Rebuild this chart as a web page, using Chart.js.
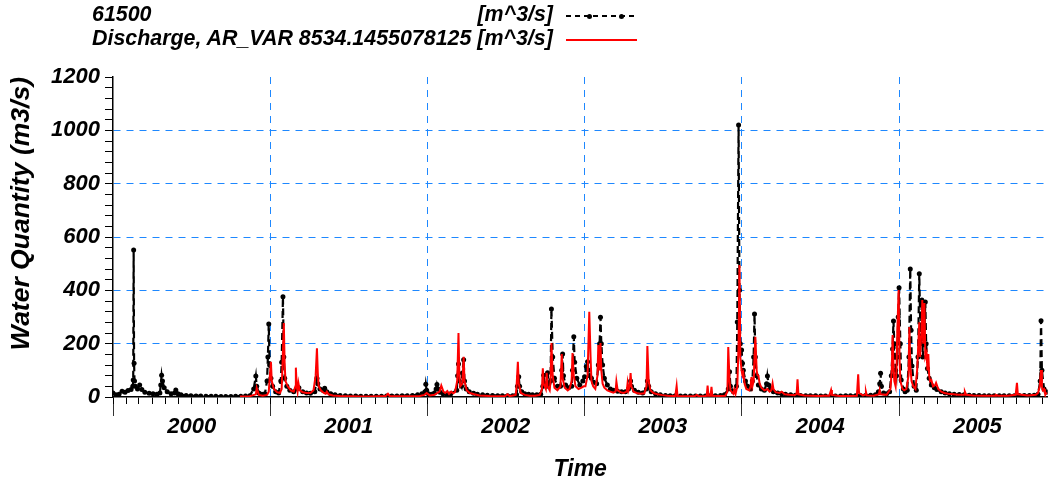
<!DOCTYPE html>
<html>
<head>
<meta charset="utf-8">
<script src="https://cdn.jsdelivr.net/npm/chart.js@4.4.0/dist/chart.umd.min.js"></script>
<style>
html,body{margin:0;padding:0;background:#fff;}
#wrap{position:relative;width:1050px;height:487px;overflow:hidden;}
#c{position:absolute;left:0;top:0;}
#legend{position:absolute;left:92px;top:2px;font:italic bold 21.4px 'Liberation Sans',Arial,sans-serif;color:#000;line-height:24px;}
.row{position:relative;width:461px;height:24px;white-space:nowrap;}
.row .r{position:absolute;right:0;top:0;}
.sample{position:absolute;left:474px;width:71px;height:2px;top:13px;}
.s1{background:repeating-linear-gradient(to right,#000 0 5px,transparent 5px 9px);}
.s2{background:#f00;height:1.6px;}
.dot{position:absolute;width:5px;height:5px;border-radius:50%;background:#000;top:-1.5px;}
</style>
</head>
<body>
<div id="wrap">
<canvas id="c" width="1050" height="487"></canvas>
<div id="legend">
  <div class="row"><span>61500</span><span class="r">[m^3/s]</span>
    <div class="sample s1"><div class="dot" style="left:21px"></div><div class="dot" style="left:53px"></div></div></div>
  <div class="row"><span>Discharge, AR_VAR 8534.1455078125 [m^3/s]</span>
    <div class="sample s2"></div></div>
</div>
</div>
<script>
// ---- data ----
const obsDates = [
'2000-01-01','2000-01-08','2000-01-15','2000-01-22','2000-01-29','2000-02-05','2000-02-12','2000-02-16','2000-02-17','2000-02-18',
'2000-02-19','2000-02-20','2000-02-22','2000-02-27','2000-03-03','2000-03-08','2000-03-15','2000-03-25','2000-04-03','2000-04-12',
'2000-04-19','2000-04-21','2000-04-23','2000-04-25','2000-04-29','2000-05-06','2000-05-15','2000-05-23','2000-05-26','2000-05-31',
'2000-06-07','2000-06-19','2000-06-30','2000-07-12','2000-07-23','2000-08-04','2000-08-16','2000-08-27','2000-09-08','2000-09-19',
'2000-10-01','2000-10-12','2000-10-24','2000-11-04','2000-11-14','2000-11-23','2000-11-28','2000-11-30','2000-12-05','2000-12-12',
'2000-12-19','2000-12-24','2000-12-26','2000-12-28','2000-12-30','2001-01-02','2001-01-06','2001-01-13','2001-01-20','2001-01-25',
'2001-01-27','2001-01-30','2001-02-01','2001-02-03','2001-02-08','2001-02-15','2001-02-24','2001-03-03','2001-03-08','2001-03-17',
'2001-03-26','2001-04-04','2001-04-14','2001-04-19','2001-04-21','2001-04-26','2001-05-03','2001-05-07','2001-05-12','2001-05-21',
'2001-05-31','2001-06-12','2001-06-24','2001-07-06','2001-07-18','2001-07-30','2001-08-11','2001-08-23','2001-09-04','2001-09-16',
'2001-09-28','2001-10-10','2001-10-22','2001-11-03','2001-11-15','2001-11-27','2001-12-09','2001-12-19','2001-12-26','2001-12-28',
'2001-12-30','2002-01-03','2002-01-10','2002-01-17','2002-01-21','2002-01-23','2002-01-26','2002-01-30','2002-02-06','2002-02-15',
'2002-02-24','2002-03-10','2002-03-12','2002-03-14','2002-03-16','2002-03-21','2002-03-23','2002-03-26','2002-03-28','2002-04-01',
'2002-04-08','2002-04-18','2002-04-27','2002-05-09','2002-05-20','2002-06-01','2002-06-13','2002-06-24','2002-07-06','2002-07-18',
'2002-07-27','2002-07-29','2002-08-01','2002-08-03','2002-08-08','2002-08-15','2002-08-24','2002-09-02','2002-09-12','2002-09-21',
'2002-09-26','2002-09-28','2002-09-30','2002-10-05','2002-10-07','2002-10-10','2002-10-14','2002-10-16','2002-10-19','2002-10-23',
'2002-10-30','2002-11-06','2002-11-09','2002-11-11','2002-11-13','2002-11-18','2002-11-25','2002-12-02','2002-12-04','2002-12-07',
'2002-12-09','2002-12-14','2002-12-21','2002-12-28','2003-01-01','2003-01-05','2003-01-08','2003-01-10','2003-01-13','2003-01-17',
'2003-01-22','2003-01-29','2003-02-02','2003-02-05','2003-02-07','2003-02-09','2003-02-12','2003-02-16','2003-02-23','2003-03-02',
'2003-03-09','2003-03-19','2003-03-28','2003-04-06','2003-04-13','2003-04-18','2003-04-20','2003-04-27','2003-05-06','2003-05-16',
'2003-05-25','2003-05-27','2003-05-30','2003-06-05','2003-06-15','2003-06-26','2003-07-08','2003-07-19','2003-07-31','2003-08-12',
'2003-08-23','2003-09-04','2003-09-16','2003-09-27','2003-10-09','2003-10-20','2003-11-01','2003-11-13','2003-11-22','2003-12-01',
'2003-12-04','2003-12-06','2003-12-13','2003-12-20','2003-12-22','2003-12-25','2003-12-27','2003-12-29','2004-01-01','2004-01-03',
'2004-01-05','2004-01-10','2004-01-15','2004-01-22','2004-01-26','2004-01-29','2004-01-31','2004-02-02','2004-02-05','2004-02-09',
'2004-02-16','2004-02-23','2004-02-28','2004-03-01','2004-03-04','2004-03-08','2004-03-15','2004-03-25','2004-04-03','2004-04-12',
'2004-04-24','2004-05-05','2004-05-17','2004-05-29','2004-06-09','2004-06-21','2004-07-03','2004-07-14','2004-07-26','2004-08-06',
'2004-08-18','2004-08-30','2004-09-10','2004-09-22','2004-10-03','2004-10-15','2004-10-27','2004-11-07','2004-11-14','2004-11-17',
'2004-11-19','2004-11-21','2004-11-26','2004-12-03','2004-12-10','2004-12-14','2004-12-17','2004-12-19','2004-12-21','2004-12-24',
'2004-12-26','2004-12-28','2004-12-30','2005-01-01','2005-01-04','2005-01-06','2005-01-11','2005-01-15','2005-01-20','2005-01-24',
'2005-01-27','2005-01-29','2005-01-31','2005-02-05','2005-02-10','2005-02-14','2005-02-17','2005-02-20','2005-02-23','2005-02-25',
'2005-02-28','2005-03-03','2005-03-05','2005-03-08','2005-03-12','2005-03-17','2005-03-24','2005-03-30','2005-04-09','2005-04-18',
'2005-04-28','2005-05-09','2005-05-21','2005-06-01','2005-06-13','2005-06-24','2005-07-06','2005-07-18','2005-07-29','2005-08-10',
'2005-08-22','2005-09-02','2005-09-14','2005-09-26','2005-10-07','2005-10-19','2005-10-31','2005-11-11','2005-11-20','2005-11-25',
'2005-11-27','2005-11-29','2005-12-04','2005-12-09','2005-12-12'];
const obsFlow = [
15,8,10,22,18,24,28,40,64,551,
127,60,40,30,45,28,18,14,12,10,
15,45,82,60,35,20,12,15,26,12,
8,6,5,4,4,3,3,3,2,2,
2,3,3,4,5,30,79,40,15,10,
12,60,150,274,120,70,40,20,15,60,
130,376,150,70,40,25,20,30,35,20,
15,14,20,70,50,30,25,33,20,12,
8,6,5,4,4,3,3,3,3,3,
4,4,4,5,5,6,8,12,20,48,
25,12,10,15,30,47,30,18,12,10,
12,25,80,124,60,40,90,140,60,30,
20,14,10,8,7,6,5,5,5,5,
8,40,76,40,20,12,10,8,8,10,
40,82,50,40,91,50,60,330,150,70,
40,40,100,161,80,45,35,40,100,226,
130,70,45,60,76,114,132,100,80,70,
55,50,120,200,299,200,120,70,45,30,
25,22,20,20,30,60,40,25,18,15,
30,60,40,20,12,8,6,5,5,4,
4,4,4,4,4,5,5,6,8,30,
95,40,20,40,281,1020,400,200,176,127,
100,60,40,30,60,150,311,150,80,45,
30,25,50,79,45,30,20,15,12,10,
8,7,6,5,5,5,4,4,4,4,
4,5,5,5,6,6,7,8,20,50,
89,40,15,12,20,80,180,285,200,100,
80,150,300,410,200,64,30,20,25,150,
480,250,116,40,25,150,462,200,364,150,
200,356,200,107,70,45,35,28,20,15,
12,10,9,8,7,6,6,5,5,5,
5,5,5,5,6,6,6,7,10,60,
286,100,30,20,18];

const simDates = [
'2000-10-22','2000-11-14','2000-11-28','2000-11-30','2000-12-05','2000-12-14','2000-12-24','2000-12-28','2001-01-02','2001-01-04',
'2001-01-09','2001-01-16','2001-01-23','2001-01-27','2001-01-29','2001-02-01','2001-02-03','2001-02-05','2001-02-10','2001-02-17',
'2001-02-24','2001-02-28','2001-03-01','2001-03-03','2001-03-05','2001-03-07','2001-03-10','2001-03-17','2001-03-26','2001-04-04',
'2001-04-11','2001-04-16','2001-04-19','2001-04-21','2001-04-23','2001-04-28','2001-05-05','2001-05-09','2001-05-12','2001-05-16',
'2001-05-26','2001-06-11','2001-07-04','2001-07-28','2001-08-19','2001-09-12','2001-09-26','2001-10-01','2001-10-05','2001-10-28',
'2001-11-21','2001-12-14','2001-12-25','2001-12-30','2002-01-06','2002-01-17','2002-01-29','2002-02-02','2002-02-07','2002-02-11',
'2002-02-16','2002-02-20','2002-02-25','2002-03-02','2002-03-06','2002-03-11','2002-03-14','2002-03-16','2002-03-18','2002-03-23',
'2002-03-26','2002-03-28','2002-04-02','2002-04-09','2002-04-20','2002-05-02','2002-05-25','2002-06-18','2002-06-30','2002-07-06',
'2002-07-11','2002-07-25','2002-07-27','2002-07-30','2002-08-01','2002-08-06','2002-08-15','2002-08-27','2002-09-08','2002-09-19',
'2002-09-24','2002-09-26','2002-09-28','2002-10-03','2002-10-05','2002-10-07','2002-10-12','2002-10-14','2002-10-16','2002-10-19',
'2002-10-23','2002-10-30','2002-11-06','2002-11-09','2002-11-11','2002-11-16','2002-11-23','2002-11-27','2002-12-02','2002-12-04',
'2002-12-07','2002-12-11','2002-12-18','2002-12-25','2002-12-30','2003-01-03','2003-01-08','2003-01-10','2003-01-12','2003-01-15',
'2003-01-17','2003-01-21','2003-01-26','2003-01-31','2003-02-02','2003-02-05','2003-02-07','2003-02-09','2003-02-12','2003-02-16',
'2003-02-23','2003-03-02','2003-03-09','2003-03-14','2003-03-16','2003-03-19','2003-03-26','2003-04-02','2003-04-09','2003-04-11',
'2003-04-13','2003-04-16','2003-04-18','2003-04-20','2003-04-25','2003-05-02','2003-05-11','2003-05-20','2003-05-25','2003-05-27',
'2003-05-30','2003-06-03','2003-06-10','2003-06-20','2003-07-01','2003-07-13','2003-07-24','2003-07-31','2003-08-03','2003-08-05',
'2003-08-21','2003-09-14','2003-09-19','2003-09-23','2003-10-07','2003-10-12','2003-10-14','2003-10-16','2003-10-21','2003-10-23',
'2003-10-25','2003-11-11','2003-11-24','2003-11-29','2003-12-01','2003-12-04','2003-12-06','2003-12-13','2003-12-15','2003-12-18',
'2003-12-22','2003-12-25','2003-12-27','2003-12-29','2004-01-01','2004-01-03','2004-01-05','2004-01-08','2004-01-12','2004-01-19',
'2004-01-22','2004-01-24','2004-01-26','2004-01-29','2004-01-31','2004-02-02','2004-02-05','2004-02-07','2004-02-09','2004-02-12',
'2004-02-16','2004-02-23','2004-03-01','2004-03-06','2004-03-10','2004-03-13','2004-03-15','2004-03-20','2004-03-29','2004-04-03',
'2004-04-10','2004-04-21','2004-05-03','2004-05-08','2004-05-10','2004-05-12','2004-05-26','2004-06-11','2004-06-27','2004-07-11',
'2004-07-23','2004-07-27','2004-07-29','2004-08-15','2004-09-07','2004-09-25','2004-09-28','2004-09-30','2004-10-09','2004-10-14',
'2004-10-16','2004-10-18','2004-11-03','2004-11-15','2004-11-17','2004-11-19','2004-12-03','2004-12-12','2004-12-15','2004-12-17',
'2004-12-19','2004-12-21','2004-12-24','2004-12-26','2004-12-28','2004-12-31','2005-01-02','2005-01-04','2005-01-09','2005-01-13',
'2005-01-18','2005-01-23','2005-01-25','2005-01-27','2005-01-30','2005-02-03','2005-02-08','2005-02-12','2005-02-17','2005-02-19',
'2005-02-21','2005-02-23','2005-02-24','2005-02-26','2005-03-01','2005-03-03','2005-03-06','2005-03-08','2005-03-10','2005-03-12',
'2005-03-14','2005-03-17','2005-03-21','2005-03-26','2005-03-28','2005-04-02','2005-04-09','2005-04-16','2005-04-25','2005-05-07',
'2005-05-18','2005-06-01','2005-06-03','2005-06-06','2005-06-22','2005-07-15','2005-08-12','2005-08-14','2005-08-19','2005-09-11',
'2005-09-29','2005-10-02','2005-10-04','2005-10-27','2005-11-15','2005-11-20','2005-11-24','2005-11-27','2005-11-29','2005-12-01',
'2005-12-04','2005-12-06','2005-12-12'];
const simFlow = [
2,3,10,34,8,5,8,20,132,60,
30,18,15,30,120,277,120,60,40,25,
20,40,110,40,20,52,25,18,15,15,
25,80,183,90,40,25,15,12,20,10,
6,4,3,2,2,3,4,12,4,3,
3,4,8,15,6,8,20,43,20,15,
22,12,20,14,18,60,240,80,40,50,
151,60,25,15,10,6,4,3,3,10,
3,8,40,132,50,15,8,5,5,8,
30,108,50,30,91,40,25,60,202,80,
35,25,40,161,70,35,25,30,60,165,
80,40,30,35,40,40,80,200,320,150,
60,40,30,80,195,100,202,100,50,35,
25,20,16,20,58,25,18,15,20,51,
25,40,90,40,20,15,12,14,40,191,
60,25,15,10,7,5,4,4,41,4,
3,3,8,3,3,5,43,5,5,38,
5,4,5,20,187,60,25,12,28,12,
40,200,495,150,100,81,90,50,30,25,
40,75,40,60,150,226,100,82,80,50,
35,25,30,20,25,51,30,18,15,20,
10,8,7,12,66,10,6,5,4,5,
5,26,8,4,4,5,85,15,6,8,
20,6,5,10,26,10,8,30,100,232,
120,60,40,100,250,401,150,60,30,25,
30,80,262,120,60,40,30,100,280,150,
226,300,364,200,352,150,165,100,161,80,
60,64,40,45,53,30,20,15,12,10,
8,8,20,8,6,5,5,8,5,5,
8,53,10,6,8,15,40,101,40,25,
30,15,12];

const yearLabels = ['2000','2001','2002','2003','2004','2005'];
const yMax = 1200, yMajorStep = 200, yMinorStep = 40;

// ---- helpers ----
const DAY = 86400000, T0 = Date.UTC(2000, 0, 1);
const toDay = s => { const p = s.split('-').map(Number); return (Date.UTC(p[0], p[1] - 1, p[2]) - T0) / DAY; };
const xMin = 0, xMax = toDay('2005-12-12');
const monthTicks = [];
yearLabels.forEach(y => { for (let m = 1; m <= 12; m++) { const v = toDay(y + '-' + String(m).padStart(2, '0') + '-01'); if (v <= xMax) monthTicks.push(v); } });
const yearStarts = yearLabels.map(y => toDay(y + '-01-01'));
const midMap = new Map(yearLabels.map(y => [toDay(y + '-07-02'), y]));
const startSet = new Set(yearStarts);
const yearAxisTicks = yearStarts.concat([...midMap.keys()]).sort((a, b) => a - b);

const FONT = "'Liberation Sans', Arial, Helvetica, sans-serif";
const GRID = '#1e88ff';
const bi = (size) => ({ family: FONT, size: size, weight: 'bold', style: 'italic' });

new Chart(document.getElementById('c'), {
  type: 'line',
  data: {
    datasets: [
      { label: '61500', data: obsDates.map((d, i) => ({ x: toDay(d), y: obsFlow[i] })),
        borderColor: '#000', backgroundColor: '#000', borderWidth: 2.2, borderDash: [7, 4],
        pointRadius: 2.5, pointHoverRadius: 2.5, pointBackgroundColor: '#000', pointBorderWidth: 0,
        tension: 0, order: 1, xAxisID: 'x', yAxisID: 'y' },
      { label: 'Discharge, AR_VAR 8534.1455078125', data: simDates.map((d, i) => ({ x: toDay(d), y: simFlow[i] })),
        borderColor: '#ff0000', backgroundColor: '#ff0000', borderWidth: 2, pointRadius: 0,
        tension: 0, order: 0, xAxisID: 'x', yAxisID: 'y' }
    ]
  },
  options: {
    responsive: false, animation: false, devicePixelRatio: 1,
    layout: { padding: { top: 77, right: 2, left: 0, bottom: 0 } },
    plugins: { legend: { display: false }, tooltip: { enabled: false } },
    scales: {
      x: {
        type: 'linear', position: 'bottom', min: xMin, max: xMax, weight: 0,
        afterBuildTicks: s => { s.ticks = monthTicks.map(v => ({ value: v })); },
        afterFit: s => { s.height = 7; },
        ticks: { display: false },
        grid: { drawOnChartArea: false, drawTicks: true, tickLength: 7, tickColor: '#000', tickWidth: 1 },
        border: { display: true, color: '#000', width: 1.5 }
      },
      xYear: {
        type: 'linear', position: 'bottom', min: xMin, max: xMax, weight: 1,
        afterBuildTicks: s => { s.ticks = yearAxisTicks.map(v => ({ value: v })); },
        afterFit: s => { s.height = 487 - 397 - 7; },
        ticks: {
          autoSkip: false, maxRotation: 0, minRotation: 0, padding: 0, color: '#000',
          font: Object.assign(bi(22), { lineHeight: 1 }),
          callback: v => midMap.has(v) ? midMap.get(v) : ''
        },
        grid: {
          drawOnChartArea: true, drawTicks: true, tickLength: 12, lineWidth: 1, tickWidth: 1,
          color: c => (c.tick && startSet.has(c.tick.value) && c.tick.value > xMin) ? GRID : 'rgba(0,0,0,0)',
          tickColor: c => (c.tick && startSet.has(c.tick.value)) ? '#333' : 'rgba(0,0,0,0)',
          tickBorderDash: []
        },
        border: { display: false, dash: [7, 6] },
        title: { display: true, text: 'Time', color: '#000', font: bi(23), padding: { top: 0, bottom: 4 } }
      },
      y: {
        type: 'linear', position: 'left', min: 0, max: yMax,
        afterFit: s => { s.width = 113; },
        ticks: {
          stepSize: yMinorStep, autoSkip: false, padding: 5, color: '#000', font: bi(22),
          callback: v => (v % yMajorStep === 0) ? String(v) : ''
        },
        grid: {
          drawOnChartArea: true, drawTicks: true, tickLength: 8, lineWidth: 1, tickWidth: 1,
          color: c => (c.tick && c.tick.value % yMajorStep === 0 && c.tick.value > 0 && c.tick.value < yMax) ? GRID : 'rgba(0,0,0,0)',
          tickColor: '#000', tickBorderDash: []
        },
        border: { display: true, color: '#000', width: 1.5, dash: [7, 6] },
        title: { display: true, text: 'Water Quantity (m3/s)', align: 'end', color: '#000', font: bi(26.5), padding: { top: 6, bottom: 0 } }
      }
    }
  }
});
</script>
</body>
</html>
